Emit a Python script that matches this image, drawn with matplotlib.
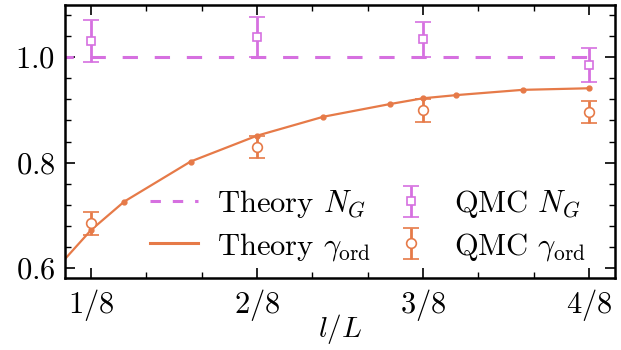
import numpy as np
import matplotlib
matplotlib.use("Agg")
import matplotlib.pyplot as plt
from matplotlib.lines import Line2D
from matplotlib.ticker import MultipleLocator, FixedLocator

plt.rcParams['mathtext.fontset'] = 'cm'
plt.rcParams['font.family'] = 'cmr10'
plt.rcParams['axes.formatter.use_mathtext'] = True

# system size and subsystem sizes for the theory curves
L = 40
l_theory = [4, 5, 6, 8, 10, 12, 14, 15, 16, 18, 20]
gamma_theory = [0.602, 0.672, 0.726, 0.802, 0.851, 0.887, 0.911, 0.922, 0.928, 0.938, 0.941]
ng_theory = [1.0, 1.0]
ng_theory_x = [0.1, 0.5]

# QMC data at l/L = 1/8 ... 4/8
qmc_x = [1/8, 2/8, 3/8, 4/8]
qmc_ng = [1.030, 1.038, 1.034, 0.985]
qmc_ng_err = [0.040, 0.038, 0.033, 0.032]
qmc_gamma = [0.685, 0.830, 0.899, 0.896]
qmc_gamma_err = [0.022, 0.021, 0.022, 0.021]

xtick_labels = [r'$1/8$', r'$2/8$', r'$3/8$', r'$4/8$']

magenta = '#d670e0'
orange = '#e67a48'
fs = 22

fig = plt.figure(figsize=(6.21, 3.5), dpi=100)
ax = fig.add_axes([0.1047, 0.2066, 0.8855, 0.7791])

x_theory = np.array(l_theory) / L

ax.plot(ng_theory_x, ng_theory, '--', color=magenta, lw=2.2, dashes=(5, 5.5))
ax.plot(x_theory, gamma_theory, '-', color=orange, lw=1.6, marker='o', ms=3.5)

eb1 = ax.errorbar(qmc_x, qmc_ng, yerr=qmc_ng_err, fmt='s', color=magenta,
                  mfc='white', mec=magenta, ms=5.5, mew=1.2, elinewidth=2.0,
                  capsize=5.5, capthick=1.5, zorder=4)
eb2 = ax.errorbar(qmc_x, qmc_gamma, yerr=qmc_gamma_err, fmt='o', color=orange,
                  mfc='white', mec=orange, ms=7, mew=1.2, elinewidth=2.0,
                  capsize=5.5, capthick=1.5, zorder=4)

ax.set_xlim(0.1054, 0.5196)
ax.set_ylim(0.5816, 1.099)

ax.xaxis.set_major_locator(FixedLocator(qmc_x))
ax.set_xticklabels(xtick_labels)
ax.xaxis.set_minor_locator(MultipleLocator(1/24))
ax.yaxis.set_major_locator(MultipleLocator(0.2))
ax.yaxis.set_minor_locator(MultipleLocator(0.04))
ax.yaxis.set_major_formatter(plt.FuncFormatter(lambda v, p: r'$%.1f$' % v))

ax.tick_params(which='both', direction='in', top=True, right=True, labelsize=fs)
ax.tick_params(which='major', length=7, width=1.2, pad=7)
ax.tick_params(which='minor', length=4.5, width=1.0)
for sp in ax.spines.values():
    sp.set_linewidth(1.8)

ax.set_xlabel(r'$l/L$', fontsize=21, labelpad=-8)

# legend: plain line handles for theory, error bar handles for QMC
h_ng = Line2D([], [], ls='--', color=magenta, lw=2.2, dashes=(3.4, 3.9))
h_gamma = Line2D([], [], ls='-', color=orange, lw=2.2)
ax.legend([h_ng, h_gamma, eb1, eb2],
          [r'Theory $N_G$', r'Theory $\gamma_{\mathrm{ord}}$',
           r'QMC $N_G$', r'QMC $\gamma_{\mathrm{ord}}$'],
          ncol=2, frameon=False, fontsize=fs, loc='lower left',
          bbox_to_anchor=(0.155, 0.055), borderpad=0, borderaxespad=0,
          handlelength=1.55, columnspacing=0.5, handletextpad=0.65, labelspacing=0.35)

fig.savefig('out.png', dpi=100)
